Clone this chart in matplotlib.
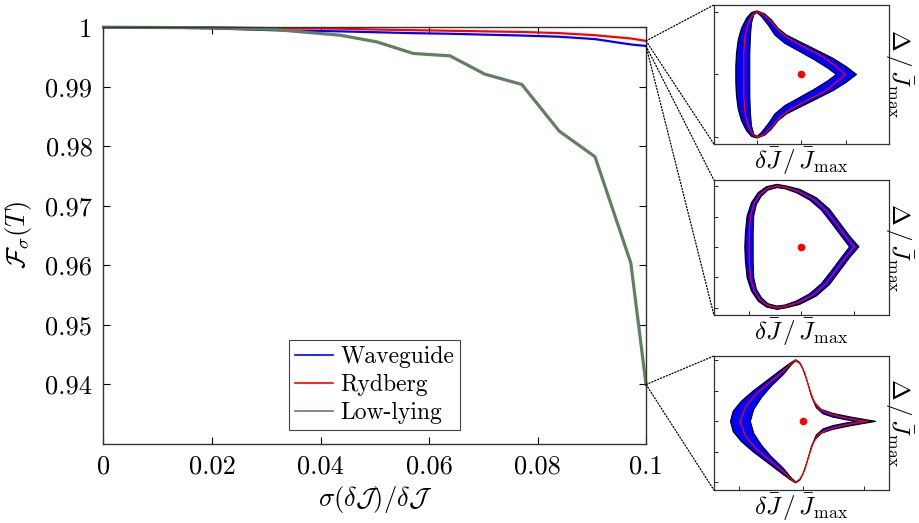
import matplotlib.pyplot as plt
from matplotlib.patches import Polygon, ConnectionPatch

plt.rcParams['font.family'] = 'serif'
plt.rcParams['font.serif'] = ['cmr10']
plt.rcParams['mathtext.fontset'] = 'cm'
plt.rcParams['axes.formatter.use_mathtext'] = True

# fidelity vs relative disorder strength
sigma = [0, 0.01, 0.02, 0.031, 0.0436, 0.0504, 0.0571, 0.0639, 0.0703, 0.0771, 0.084, 0.0906, 0.0972, 0.1]
fid_waveguide = [1.0, 0.99995, 0.9998, 0.9995, 0.9993, 0.99915, 0.999, 0.9989, 0.99875, 0.9986, 0.9984, 0.998, 0.9971, 0.99685]
fid_rydberg = [1.0, 1.0, 0.99995, 0.99985, 0.99975, 0.9996, 0.9995, 0.9994, 0.9993, 0.9992, 0.999, 0.99865, 0.9981, 0.9977]
fid_lowlying = [1.0, 0.99995, 0.9999, 0.99965, 0.99866, 0.99753, 0.99559, 0.99518, 0.99211, 0.99039, 0.98255, 0.97824, 0.9604, 0.94]

xticks = [0, 0.02, 0.04, 0.06, 0.08, 0.1]
xticklabels = ['0', '0.02', '0.04', '0.06', '0.08', '0.1']
yticks = [0.94, 0.95, 0.96, 0.97, 0.98, 0.99, 1.0]
yticklabels = ['0.94', '0.95', '0.96', '0.97', '0.98', '0.99', '1']

# trajectories in the (dJ, Delta) plane, upper halves (mirrored about Delta = 0)
# Rydberg
ryd_outer_x = [0.63, 0.513, 0.361, 0.171, -0.019, -0.171, -0.266, -0.342, -0.418, -0.506, -0.57, -0.627, -0.684, -0.722, -0.741, -0.749, -0.749]
ryd_outer_y = [0.0, 0.113, 0.233, 0.353, 0.472, 0.568, 0.664, 0.784, 0.871, 0.914, 0.89, 0.808, 0.664, 0.496, 0.305, 0.113, 0.0]
ryd_inner_x = [0.399, 0.304, 0.152, -0.019, -0.19, -0.304, -0.38, -0.456, -0.506, -0.544, -0.57, -0.582, -0.589, -0.589]
ryd_inner_y = [0.0, 0.089, 0.209, 0.329, 0.448, 0.568, 0.712, 0.832, 0.89, 0.856, 0.736, 0.544, 0.305, 0.0]
ryd_mean_x = [0.502, 0.399, 0.247, 0.057, -0.133, -0.247, -0.342, -0.437, -0.506, -0.559, -0.608, -0.646, -0.658, -0.658]
ryd_mean_y = [0.0, 0.113, 0.257, 0.376, 0.506, 0.616, 0.76, 0.871, 0.904, 0.856, 0.736, 0.544, 0.305, 0.0]
# Waveguide
wg_outer_x = [0.658, 0.551, 0.437, 0.323, 0.171, -0.019, -0.171, -0.278, -0.399, -0.494, -0.57, -0.62, -0.639, -0.646]
wg_outer_y = [0.0, 0.16, 0.358, 0.556, 0.728, 0.852, 0.901, 0.926, 0.891, 0.802, 0.654, 0.457, 0.21, 0.0]
wg_inner_x = [0.551, 0.456, 0.342, 0.228, 0.095, -0.057, -0.19, -0.278, -0.38, -0.456, -0.513, -0.544, -0.551, -0.551]
wg_inner_y = [0.0, 0.16, 0.358, 0.546, 0.694, 0.802, 0.862, 0.877, 0.842, 0.753, 0.63, 0.457, 0.21, 0.0]
wg_mean_x = [0.605, 0.503, 0.39, 0.275, 0.133, -0.038, -0.18, -0.278, -0.389, -0.475, -0.541, -0.582, -0.595, -0.598]
wg_mean_y = [0.0, 0.16, 0.358, 0.551, 0.711, 0.827, 0.881, 0.905, 0.866, 0.777, 0.642, 0.457, 0.21, 0.0]
# Low-lying
low_outer_x = [0.848, 0.703, 0.551, 0.361, 0.228, 0.152, 0.103, 0.057, 0.019, -0.019, -0.065, -0.133, -0.247, -0.399, -0.551, -0.684, -0.779, -0.81]
low_outer_y = [0.0, 0.033, 0.069, 0.121, 0.182, 0.285, 0.438, 0.644, 0.797, 0.9, 0.941, 0.885, 0.772, 0.618, 0.464, 0.31, 0.156, 0.0]
low_inner_x = [0.627, 0.513, 0.361, 0.247, 0.171, 0.114, 0.065, 0.019, -0.019, -0.065, -0.114, -0.209, -0.342, -0.456, -0.544, -0.582]
low_inner_y = [0.0, 0.023, 0.064, 0.115, 0.208, 0.387, 0.618, 0.797, 0.89, 0.926, 0.864, 0.71, 0.541, 0.362, 0.182, 0.0]
low_mean_x = [0.741, 0.608, 0.437, 0.304, 0.198, 0.133, 0.084, 0.038, -0.008, -0.065, -0.125, -0.228, -0.38, -0.521, -0.635, -0.703]
low_mean_y = [0.0, 0.028, 0.074, 0.126, 0.197, 0.336, 0.541, 0.746, 0.874, 0.936, 0.874, 0.746, 0.577, 0.413, 0.233, 0.0]

target_x = [0.0, 0.0, 0.02]
target_y = [0.0, 0.0, 0.0]


def mirror(xs, ys):
    x = list(xs) + list(xs[-2:0:-1])
    y = list(ys) + [-v for v in ys[-2:0:-1]]
    return x, y


def draw_inset(ax, outer, inner, mean, dot, ylim, xt, yt):
    ox, oy = mirror(*outer)
    ix, iy = mirror(*inner)
    mx, my = mirror(*mean)
    ax.add_patch(Polygon(list(zip(ox, oy)), closed=True, facecolor='blue', edgecolor='black', lw=0.9,
                         joinstyle='round'))
    ax.add_patch(Polygon(list(zip(ix, iy)), closed=True, facecolor='white', edgecolor='black', lw=0.7,
                         joinstyle='round'))
    ax.plot(mx + mx[:1], my + my[:1], color='red', lw=0.9, solid_joinstyle='round')
    ax.plot([dot[0]], [dot[1]], 'o', color='red', ms=5.5, mec='none')
    ax.set_xlim(-1, 1)
    ax.set_ylim(*ylim)
    ax.set_xticks(xt)
    ax.set_yticks(yt)
    ax.tick_params(direction='in', length=3, width=0.6, labelbottom=False, labelleft=False)
    for s in ax.spines.values():
        s.set_color('#333333')
        s.set_linewidth(0.9)
    ax.set_xlabel(r'$\delta\bar{J}\,/\,\bar{J}_{\max}$', fontsize=18, labelpad=1)
    ax.yaxis.set_label_position('right')
    ax.set_ylabel(r'$\Delta\,/\,\bar{J}_{\max}$', fontsize=18, rotation=270, labelpad=19)


fig = plt.figure(figsize=(9.2, 5.23), dpi=100)
ax = fig.add_axes([0.1125, 0.151, 0.5897, 0.797])

ax.plot(sigma, fid_waveguide, color='blue', lw=1.6, label='Waveguide', clip_on=False)
ax.plot(sigma, fid_rydberg, color='red', lw=1.6, label='Rydberg', clip_on=False)
ax.plot(sigma, fid_lowlying, color='#627f62', lw=2.3, label='Low-lying', clip_on=False)

ax.set_xlim(0, 0.1)
ax.set_ylim(0.93, 1.0)
ax.set_xticks(xticks)
ax.set_xticklabels(xticklabels)
ax.set_yticks(yticks)
ax.set_yticklabels(yticklabels)
ax.tick_params(direction='in', top=True, right=True, length=5, width=0.8, labelsize=19, pad=8)
for s in ax.spines.values():
    s.set_color('#333333')
    s.set_linewidth(1.0)
ax.set_xlabel(r'$\sigma(\delta\mathcal{J})/\delta\mathcal{J}$', fontsize=19, labelpad=4)
ax.set_ylabel(r'$\mathcal{F}_\sigma(T)$', fontsize=19, labelpad=8)

leg = ax.legend(loc='lower center', fontsize=17, handlelength=1.6, handletextpad=0.3,
                labelspacing=0.25, borderpad=0.25, borderaxespad=0.6, fancybox=False, framealpha=1)
leg.get_frame().set_edgecolor('#444444')
leg.get_frame().set_linewidth(0.8)
for h in leg.get_lines():
    h.set_linewidth(1.2)

ins1 = fig.add_axes([0.776, 0.7247, 0.19, 0.2658])
ins2 = fig.add_axes([0.776, 0.3977, 0.19, 0.258])
ins3 = fig.add_axes([0.776, 0.0631, 0.19, 0.2562])

draw_inset(ins1, (ryd_outer_x, ryd_outer_y), (ryd_inner_x, ryd_inner_y), (ryd_mean_x, ryd_mean_y),
           (target_x[0], target_y[0]), (-1, 1), [-0.506, 0, 0.506], [-0.9, 0, 0.9])
draw_inset(ins2, (wg_outer_x, wg_outer_y), (wg_inner_x, wg_inner_y), (wg_mean_x, wg_mean_y),
           (target_x[1], target_y[1]), (-1.01, 0.99), [-0.6, 0, 0.6], [-0.9, -0.45, 0, 0.45, 0.9])
draw_inset(ins3, (low_outer_x, low_outer_y), (low_inner_x, low_inner_y), (low_mean_x, low_mean_y),
           (target_x[2], target_y[2]), (-1.05, 1.0), [-0.71, 0.02, 0.72], [-0.934, -0.467, 0, 0.467, 0.934])

# dotted zoom lines from the end points to the insets
for ins, fval in [(ins1, fid_rydberg[-1]), (ins2, fid_waveguide[-1]), (ins3, fid_lowlying[-1])]:
    for corner in [(0, 1), (0, 0)]:
        con = ConnectionPatch(xyA=(sigma[-1], fval), coordsA=ax.transData, xyB=corner, coordsB=ins.transAxes,
                              linestyle=(0, (1, 1.5)), color='black', lw=0.9)
        fig.add_artist(con)

fig.savefig('out.png', dpi=100)
